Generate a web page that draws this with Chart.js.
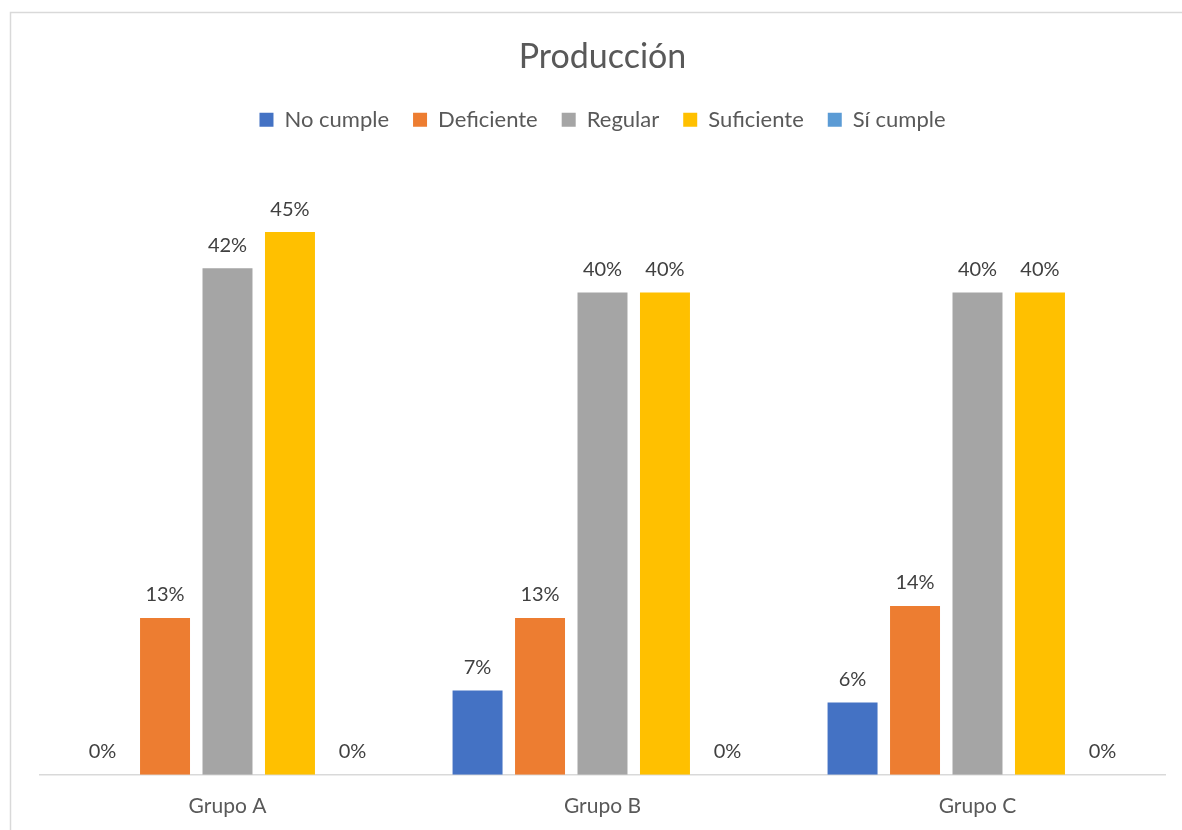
<!DOCTYPE html>
<html>
<head>
<meta charset="utf-8">
<title>Producción</title>
<script src="https://cdn.jsdelivr.net/npm/chart.js@4/dist/chart.umd.min.js"></script>
<style>
    html, body { margin: 0; padding: 0; background: #fff; }
    #wrap { width: 1182px; height: 830px; position: relative; }
</style>
</head>
<body>
<div id="wrap"><canvas id="prodChart"></canvas></div>
<script>
// data
const grupos = ["Grupo A", "Grupo B", "Grupo C"];
const noCumple = [0, 0.07, 0.06];
const deficiente = [0.13, 0.13, 0.14];
const regular = [0.42, 0.40, 0.40];
const suficiente = [0.45, 0.40, 0.40];
const siCumple = [0, 0, 0];

const seriesNames = ["No cumple", "Deficiente", "Regular", "Suficiente", "Sí cumple"];
const seriesColors = ["#4472C4", "#ED7D31", "#A5A5A5", "#FFC000", "#5B9BD5"];
const seriesData = [noCumple, deficiente, regular, suficiente, siCumple];

const FONT = "Lato, 'Open Sans', sans-serif";

// value labels above each bar
const barLabels = {
    id: 'barLabels',
    afterDatasetsDraw(chart) {
        const ctx = chart.ctx;
        ctx.save();
        ctx.font = "20px " + FONT;
        ctx.fillStyle = "#404040";
        ctx.textAlign = "center";
        ctx.textBaseline = "bottom";
        chart.data.datasets.forEach((ds, i) => {
            const meta = chart.getDatasetMeta(i);
            meta.data.forEach((bar, j) => {
                const v = ds.data[j];
                ctx.fillText(Math.round(v * 100) + "%", bar.x, bar.y - 13);
            });
        });
        ctx.restore();
    }
};

// light frame around the chart, open on the right and bottom like the original
const chartFrame = {
    id: 'chartFrame',
    beforeDraw(chart) {
        const ctx = chart.ctx;
        ctx.save();
        ctx.strokeStyle = "#d9d9d9";
        ctx.lineWidth = 1.5;
        ctx.beginPath();
        ctx.moveTo(10.5, 840);
        ctx.lineTo(10.5, 12.5);
        ctx.lineTo(1190, 12.5);
        ctx.stroke();
        ctx.restore();
    }
};

// extra room under the legend
const legendGap = {
    id: 'legendGap',
    beforeInit(chart) {
        const fit = chart.legend.fit;
        chart.legend.fit = function () {
            fit.bind(chart.legend)();
            this.height += 31;
        };
    }
};

const ctx = document.getElementById("prodChart").getContext('2d');
new Chart(ctx, {
    type: 'bar',
    data: {
        labels: grupos,
        datasets: seriesNames.map((name, i) => ({
            label: name,
            data: seriesData[i],
            backgroundColor: seriesColors[i],
            borderWidth: 0,
            barPercentage: 0.8,
            categoryPercentage: 0.833
        }))
    },
    options: {
        responsive: true,
        maintainAspectRatio: false,
        animation: false,
        layout: { padding: { left: 40, right: 17, top: 20, bottom: 12 } },
        plugins: {
            title: {
                display: true,
                text: 'Producción',
                color: '#595959',
                font: { family: FONT, size: 34, weight: 'normal' },
                padding: { top: 17, bottom: 7 }
            },
            legend: {
                position: 'top',
                labels: {
                    color: '#595959',
                    font: { family: FONT, size: 22 },
                    boxWidth: 14,
                    boxHeight: 14,
                    padding: 24
                }
            },
            tooltip: { enabled: false }
        },
        scales: {
            x: {
                grid: { display: false, drawTicks: false, tickLength: 0 },
                border: { display: true, color: '#d9d9d9', width: 1.5 },
                ticks: { color: '#595959', font: { family: FONT, size: 21 }, padding: 19 },
                afterFit(scale) { scale.height -= 20; }
            },
            y: {
                display: false,
                min: 0,
                max: 0.5
            }
        }
    },
    plugins: [barLabels, chartFrame, legendGap]
});
</script>
</body>
</html>
